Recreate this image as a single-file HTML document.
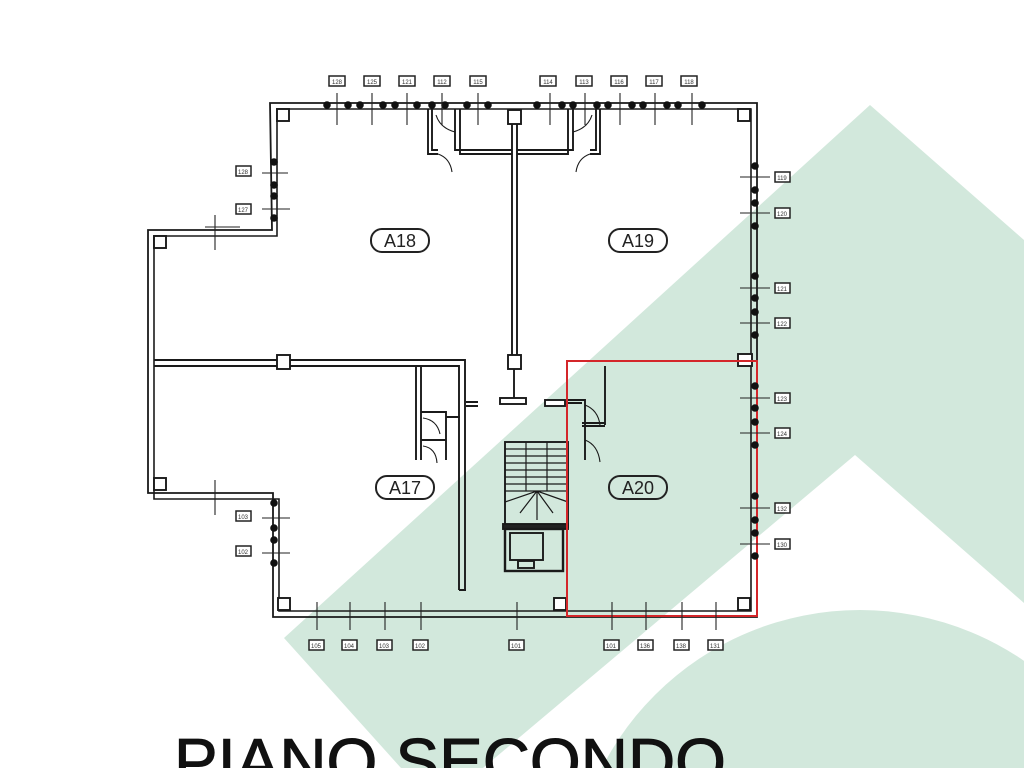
<!DOCTYPE html>
<html><head><meta charset="utf-8"><style>
html,body{margin:0;padding:0;background:#fff;width:1024px;height:768px;overflow:hidden}
svg{display:block}
</style></head><body>
<svg width="1024" height="768" viewBox="0 0 1024 768" xmlns="http://www.w3.org/2000/svg" font-family="Liberation Sans, sans-serif">
<!-- watermark -->
<polygon points="870,105 1024,240 1024,603 855,455 483,768 401,768 284,638" fill="#d2e8dc"/>
<circle cx="860" cy="900" r="290" fill="#d2e8dc"/>

<g fill="none" stroke="#1a1a1a" stroke-width="1.9">
<!-- outer walls -->
<path d="M270,103 H757 V617 H273 V493 H148 V230 H272 Z" stroke-width="1.8"/>
<path d="M277,109 H751 V611 H279 V499 H154 V236 H277 Z" stroke-width="1.6"/>
<!-- interior central wall -->
<path d="M512,110 V360 M517,110 V360"/>
<rect x="508" y="110" width="13" height="14" fill="#fff"/>
<rect x="508" y="355" width="13" height="14" fill="#fff"/>
<path d="M514,369 V400" />
<rect x="500" y="398" width="26" height="6" fill="#fff"/>
<!-- horizontal wall -->
<path d="M154,360 H465 V590 M154,366 H459 V590 M459,590 H466"/>
<rect x="277" y="355" width="13" height="14" fill="#fff"/>
<path d="M466,402 H478 M466,406 H478"/>
<!-- toilet A17 -->
<path d="M416,366 V460 M421,366 V460 M421,412 H446 V460 M421,440 H446 M446,417 H460"/>
<path d="M423,418 Q437,420 440,434 M423,446 Q436,448 437,463" stroke-width="1.1"/>
<!-- top closets -->
<path d="M428,109 V154 H438 M432,109 V150 H438 M455,109 V150 H512 M460,109 V154 H512"/>
<path d="M436,115 Q440,128 455,132 M438,154 Q450,158 452,172" stroke-width="1.1"/>
<path d="M600,109 V154 H590 M596,109 V150 H590 M573,109 V150 H517 M568,109 V154 H517"/>
<path d="M592,115 Q588,128 573,132 M590,154 Q578,158 576,172" stroke-width="1.1"/>
<!-- A20 closet -->
<path d="M568,400 H585 V460 M568,403 H582 M605,366 V425 M582,423 H605 M582,426 H605"/>
<path d="M585,405 Q598,410 600,425 M585,440 Q598,445 600,462" stroke-width="1.1"/>
<rect x="545" y="400" width="20" height="6" fill="#fff"/>
<!-- pillars -->
<rect x="277" y="109" width="12" height="12" fill="#fff"/>
<rect x="738" y="109" width="12" height="12" fill="#fff"/>
<rect x="278" y="598" width="12" height="12" fill="#fff"/>
<rect x="738" y="598" width="12" height="12" fill="#fff"/>
<rect x="554" y="598" width="12" height="12" fill="#fff"/>
<rect x="738" y="354" width="14" height="12" fill="#fff"/>
<rect x="154" y="236" width="12" height="12" fill="#fff"/>
<rect x="154" y="478" width="12" height="12" fill="#fff"/>
<!-- stairs -->
<rect x="505" y="442" width="63" height="85"/>
<path d="M505,449 H568 M505,456 H568 M505,463 H568 M505,470 H568 M505,477 H568 M505,484 H568 M505,491 H568 M526,442 V491 M547,442 V491 M505,502 L537,491 L568,502 M520,513 L537,491 M553,513 L537,491 M537,491 V520" stroke-width="1.2"/>
<rect x="503" y="524" width="65" height="5" fill="#222"/>
<rect x="505" y="529" width="58" height="42" stroke-width="2.4"/>
<rect x="510" y="533" width="33" height="27"/>
<rect x="518" y="561" width="16" height="7"/>
</g>

<!-- red outline -->
<rect x="567" y="361" width="190" height="255" fill="none" stroke="#d4262a" stroke-width="2"/>

<!-- dots -->
<g fill="#111">
<circle cx="327" cy="105" r="3.8"/><circle cx="348" cy="105" r="3.8"/><circle cx="360" cy="105" r="3.8"/><circle cx="383" cy="105" r="3.8"/><circle cx="395" cy="105" r="3.8"/><circle cx="417" cy="105" r="3.8"/><circle cx="432" cy="105" r="3.8"/><circle cx="445" cy="105" r="3.8"/><circle cx="467" cy="105" r="3.8"/><circle cx="488" cy="105" r="3.8"/>
<circle cx="537" cy="105" r="3.8"/><circle cx="562" cy="105" r="3.8"/><circle cx="573" cy="105" r="3.8"/><circle cx="597" cy="105" r="3.8"/><circle cx="608" cy="105" r="3.8"/><circle cx="632" cy="105" r="3.8"/><circle cx="643" cy="105" r="3.8"/><circle cx="667" cy="105" r="3.8"/><circle cx="678" cy="105" r="3.8"/><circle cx="702" cy="105" r="3.8"/>
<circle cx="755" cy="166" r="3.8"/><circle cx="755" cy="190" r="3.8"/><circle cx="755" cy="203" r="3.8"/><circle cx="755" cy="226" r="3.8"/>
<circle cx="755" cy="276" r="3.8"/><circle cx="755" cy="298" r="3.8"/><circle cx="755" cy="312" r="3.8"/><circle cx="755" cy="335" r="3.8"/>
<circle cx="755" cy="386" r="3.8"/><circle cx="755" cy="408" r="3.8"/><circle cx="755" cy="422" r="3.8"/><circle cx="755" cy="445" r="3.8"/>
<circle cx="755" cy="496" r="3.8"/><circle cx="755" cy="520" r="3.8"/><circle cx="755" cy="533" r="3.8"/><circle cx="755" cy="556" r="3.8"/>
<circle cx="274" cy="162" r="3.8"/><circle cx="274" cy="185" r="3.8"/><circle cx="274" cy="196" r="3.8"/><circle cx="274" cy="218" r="3.8"/>
<circle cx="274" cy="503" r="3.8"/><circle cx="274" cy="528" r="3.8"/><circle cx="274" cy="540" r="3.8"/><circle cx="274" cy="563" r="3.8"/>
</g>

<!-- ticks -->
<g stroke="#222" stroke-width="1.1">
<path d="M337,93 V125 M372,93 V125 M407,93 V125 M442,93 V125 M478,93 V125 M550,93 V125 M585,93 V125 M620,93 V125 M655,93 V125 M692,93 V125"/>
<path d="M740,177 H770 M740,213 H770 M740,288 H770 M740,323 H770 M740,398 H770 M740,433 H770 M740,508 H770 M740,544 H770"/>
<path d="M262,173 H288 M262,209 H290 M262,518 H290 M262,553 H290"/>
<path d="M317,602 V630 M350,602 V630 M385,602 V630 M421,602 V630 M517,602 V630 M612,602 V630 M646,602 V630 M682,602 V630 M716,602 V630"/>
<path d="M215,215 V250 M205,227 H240 M215,480 V515"/>
</g>

<!-- label boxes -->
<g fill="#fff" stroke="#222" stroke-width="1.5">
<rect x="329" y="76" width="16" height="10"/><rect x="364" y="76" width="16" height="10"/><rect x="399" y="76" width="16" height="10"/><rect x="434" y="76" width="16" height="10"/><rect x="470" y="76" width="16" height="10"/>
<rect x="540" y="76" width="16" height="10"/><rect x="576" y="76" width="16" height="10"/><rect x="611" y="76" width="16" height="10"/><rect x="646" y="76" width="16" height="10"/><rect x="681" y="76" width="16" height="10"/>
<rect x="775" y="172" width="15" height="10"/><rect x="775" y="208" width="15" height="10"/><rect x="775" y="283" width="15" height="10"/><rect x="775" y="318" width="15" height="10"/><rect x="775" y="393" width="15" height="10"/><rect x="775" y="428" width="15" height="10"/><rect x="775" y="503" width="15" height="10"/><rect x="775" y="539" width="15" height="10"/>
<rect x="236" y="166" width="15" height="10"/><rect x="236" y="204" width="15" height="10"/><rect x="236" y="511" width="15" height="10"/><rect x="236" y="546" width="15" height="10"/>
<rect x="309" y="640" width="15" height="10"/><rect x="342" y="640" width="15" height="10"/><rect x="377" y="640" width="15" height="10"/><rect x="413" y="640" width="15" height="10"/><rect x="509" y="640" width="15" height="10"/><rect x="604" y="640" width="15" height="10"/><rect x="638" y="640" width="15" height="10"/><rect x="674" y="640" width="15" height="10"/><rect x="708" y="640" width="15" height="10"/>
</g>
<g font-size="6" fill="#333" text-anchor="middle">
<text x="337" y="84">128</text><text x="372" y="84">125</text><text x="407" y="84">121</text><text x="442" y="84">112</text><text x="478" y="84">115</text>
<text x="548" y="84">114</text><text x="584" y="84">113</text><text x="619" y="84">116</text><text x="654" y="84">117</text><text x="689" y="84">118</text>
<text x="782" y="180">119</text><text x="782" y="216">120</text><text x="782" y="291">121</text><text x="782" y="326">122</text><text x="782" y="401">123</text><text x="782" y="436">124</text><text x="782" y="511">132</text><text x="782" y="547">130</text>
<text x="243" y="174">128</text><text x="243" y="212">127</text><text x="243" y="519">103</text><text x="243" y="554">102</text>
<text x="316" y="648">105</text><text x="349" y="648">104</text><text x="384" y="648">103</text><text x="420" y="648">102</text><text x="516" y="648">101</text><text x="611" y="648">101</text><text x="645" y="648">136</text><text x="681" y="648">138</text><text x="715" y="648">131</text>
</g>

<!-- room labels -->
<g fill="#fff" stroke="#222" stroke-width="2">
<rect x="371" y="229" width="58" height="23" rx="11"/>
<rect x="609" y="229" width="58" height="23" rx="11"/>
<rect x="376" y="476" width="58" height="23" rx="11"/>
<rect x="609" y="476" width="58" height="23" rx="11" fill="#d2e8dc"/>
</g>
<g font-size="18" fill="#222" text-anchor="middle">
<text x="400" y="247">A18</text><text x="638" y="247">A19</text><text x="405" y="494">A17</text><text x="638" y="494">A20</text>
</g>

<text x="174" y="784" font-size="65" fill="#111" stroke="#111" stroke-width="1" textLength="552" lengthAdjust="spacingAndGlyphs">PIANO SECONDO</text>
</svg>
</body></html>
